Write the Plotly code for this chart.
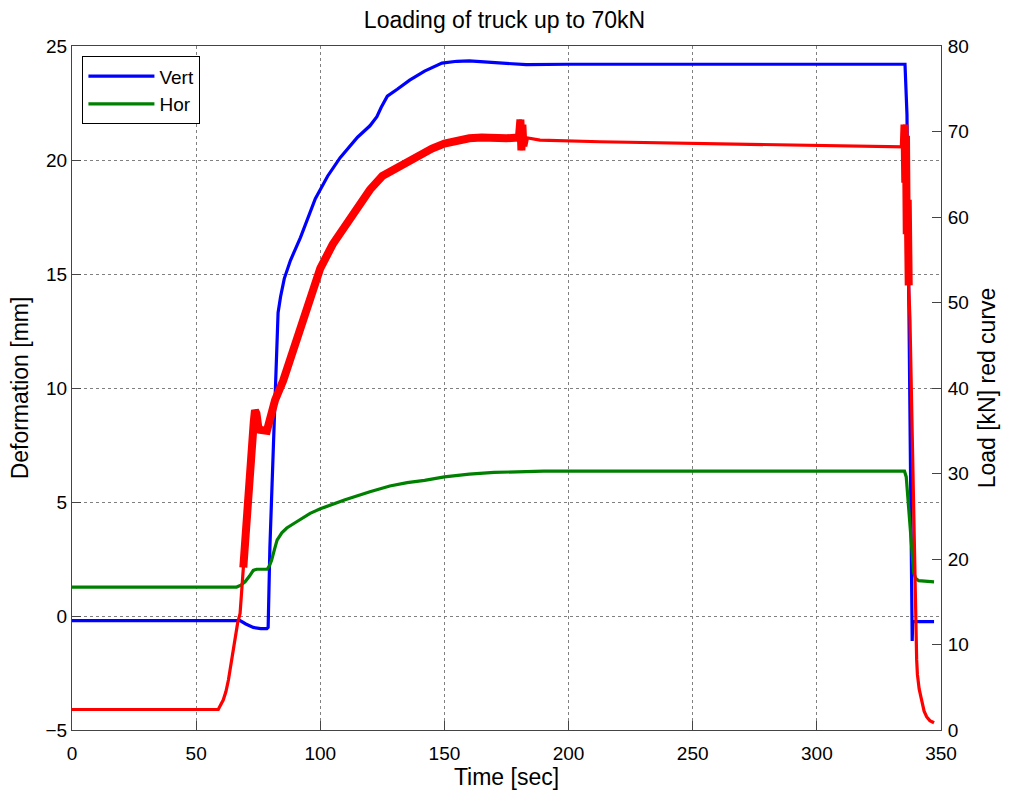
import plotly.graph_objects as go

# ---- data ----
time_v = [0, 67.7, 70, 73, 76, 78.5, 79.0, 79.7, 81.1, 82.2, 83.0, 84.0, 85.5, 88, 92, 98, 103,
          108, 115, 120, 122.8, 124.5, 126, 127, 131, 136, 142, 149, 155, 160, 166, 172, 178,
          183, 200, 250, 300, 335.5, 336.3, 337, 338, 338.4, 338.6, 339.5, 347.2]
vert = [-0.2, -0.2, -0.35, -0.5, -0.55, -0.55, -0.5, 3.0, 7.4, 10.35, 13.3, 14.0, 14.8, 15.6,
        16.6, 18.3, 19.3, 20.1, 21.0, 21.5, 21.9, 22.3, 22.6, 22.8, 23.1, 23.5, 23.9, 24.25,
        24.33, 24.35, 24.3, 24.25, 24.2, 24.18, 24.2, 24.2, 24.2, 24.2, 22.0, 15.0, 3.0, -1.1,
        -0.25, -0.25, -0.25]

time_h = [0, 66.3, 68, 69.7, 71.5, 73, 74.4, 78.6, 79.5, 80.4, 81.5, 82.6, 84.5, 86.5, 90,
          95.9, 100, 110, 120, 128, 135, 142, 150, 160, 170, 180, 190, 250, 335.3, 336,
          336.8, 337.5, 338.3, 339, 339.8, 341, 347.2]
hor = [1.27, 1.27, 1.35, 1.5, 1.75, 2.0, 2.05, 2.05, 2.2, 2.45, 2.9, 3.33, 3.65, 3.86, 4.1,
       4.5, 4.7, 5.1, 5.45, 5.7, 5.85, 5.95, 6.1, 6.22, 6.3, 6.33, 6.35, 6.35, 6.35, 6.1,
       5.0, 3.8, 2.6, 1.9, 1.65, 1.55, 1.5]

time_l = [0, 58.9, 60.9, 62, 63, 64.3, 65.6, 66.7, 67.7, 69, 70.3, 71.5, 72.4, 73.2, 73.7,
          74.3, 75, 75.7, 78.5, 80, 81.8, 85.1, 90, 95, 100, 105, 110, 115, 120, 125, 130,
          135, 140, 145, 150, 155, 160, 165, 170, 175, 180, 180.6, 181, 181.4, 181.8, 182.5,
          188.5, 212.6, 250, 300, 334.5, 335, 335.3, 335.6, 335.9, 336.2, 336.6, 337, 337.5,
          338, 338.6, 339, 339.5, 340.2, 340.5, 341.2, 342.2, 343.2, 344.2, 345.5, 347.2]
load = [2.4, 2.4, 3.5, 4.5, 5.85, 8.2, 10.5, 12.5, 13.65, 19.0, 25.3, 30.0, 33.1, 36.0, 37.4,
        37.0, 35.5, 35.1, 35.0, 36.8, 38.6, 40.9, 45.0, 49.8, 54.0, 56.8, 59.0, 61.2, 63.2,
        64.8, 65.6, 66.6, 67.3, 68.0, 68.6, 69.0, 69.2, 69.3, 69.2, 69.2, 69.3, 71.4, 67.8,
        70.8, 68.3, 69.3, 69.0, 68.8, 68.6, 68.4, 68.2, 68.2, 70.8, 64.0, 69.5, 58.0, 62.0,
        52.0, 48.0, 40.0, 30.0, 24.0, 19.9, 8.2, 6.5, 4.8, 3.5, 2.2, 1.55, 1.1, 0.85]

# time windows in which the load signal is noisy (drawn as a thicker band)
noisy_windows = [(69.0, 183.0), (334.8, 337.2)]

x_ticks = [0, 50, 100, 150, 200, 250, 300, 350]
y_ticks = [-5, 0, 5, 10, 15, 20, 25]
y2_ticks = [0, 10, 20, 30, 40, 50, 60, 70, 80]

FONT = "Liberation Sans, Arial, Helvetica, sans-serif"
AXC = "#444444"
GRIDC = "#808080"

fig = go.Figure()
fig.add_trace(go.Scatter(x=time_v, y=vert, mode="lines", name="Vert",
                         line=dict(color="#0000ff", width=3.2)))
fig.add_trace(go.Scatter(x=time_h, y=hor, mode="lines", name="Hor",
                         line=dict(color="#008000", width=3.2)))
fig.add_trace(go.Scatter(x=time_l, y=load, mode="lines", name="Load", yaxis="y2",
                         showlegend=False, line=dict(color="#ff0000", width=3.2)))
for lo, hi in noisy_windows:
    nx = [t for t in time_l if lo <= t <= hi]
    ny = [v for t, v in zip(time_l, load) if lo <= t <= hi]
    fig.add_trace(go.Scatter(x=nx, y=ny, mode="lines", yaxis="y2", showlegend=False,
                             hoverinfo="skip", line=dict(color="#ff0000", width=8)))

fig.update_layout(
    width=1009, height=793,
    margin=dict(l=72, r=68, t=46, b=63, autoexpand=False),
    paper_bgcolor="white", plot_bgcolor="white",
    font=dict(family=FONT, size=19, color="black"),
    title=dict(text="Loading of truck up to 70kN", x=0.5, xanchor="center",
               y=0.975, yanchor="middle", yref="container",
               font=dict(family=FONT, size=23, color="black")),
    showlegend=True,
    legend=dict(x=0.012, y=0.985, xanchor="left", yanchor="top",
                bgcolor="white", bordercolor="black", borderwidth=1,
                font=dict(family=FONT, size=19, color="black"),
                itemwidth=66, tracegroupgap=0),
    xaxis=dict(range=[0, 350], tickvals=x_ticks, ticks="inside", ticklen=9,
               tickcolor=AXC, showline=True, linecolor=AXC, linewidth=1, mirror=True,
               showgrid=True, gridcolor=GRIDC, griddash="dot", gridwidth=1,
               zeroline=False, ticklabelstandoff=6, automargin=False,
               title=dict(text="Time [sec]", standoff=4)),
    yaxis=dict(range=[-5, 25], tickvals=y_ticks, ticks="inside", ticklen=9,
               tickcolor=AXC, showline=True, linecolor=AXC, linewidth=1, mirror=True,
               showgrid=True, gridcolor=GRIDC, griddash="dot", gridwidth=1,
               zeroline=False, ticklabelstandoff=0, automargin=False,
               title=dict(text="Deformation [mm]", standoff=10)),
    yaxis2=dict(range=[0, 80], tickvals=y2_ticks, ticks="inside", ticklen=9,
                tickcolor=AXC, overlaying="y", side="right", showline=True,
                linecolor=AXC, linewidth=1, showgrid=False, zeroline=False,
                ticklabelstandoff=2, automargin=False,
                title=dict(text="Load [kN] red curve", standoff=10)),
)

fig.write_html("out.html", config={"displayModeBar": False},
               post_script="document.body.style.margin='0px';")
